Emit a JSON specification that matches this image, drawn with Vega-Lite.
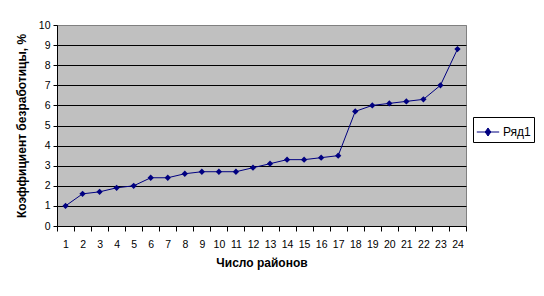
{
  "$schema": "https://vega.github.io/schema/vega-lite/v6.json",
  "width": 409,
  "height": 201,
  "autosize": {"type": "none"},
  "padding": {"left": 57, "top": 25, "right": 78, "bottom": 70},
  "background": "white",
  "config": {
    "font": "Liberation Sans",
    "view": {"fill": "#C0C0C0", "stroke": "#808080", "strokeWidth": 1},
    "axis": {"labelFont": "Liberation Sans", "titleFont": "Liberation Sans", "labelColor": "black", "titleColor": "black", "domainColor": "black", "tickColor": "black"}
  },
  "data": {
    "values": [
      {"district": 1, "rate": 1.0, "series": "Ряд1"},
      {"district": 2, "rate": 1.6, "series": "Ряд1"},
      {"district": 3, "rate": 1.7, "series": "Ряд1"},
      {"district": 4, "rate": 1.9, "series": "Ряд1"},
      {"district": 5, "rate": 2.0, "series": "Ряд1"},
      {"district": 6, "rate": 2.4, "series": "Ряд1"},
      {"district": 7, "rate": 2.4, "series": "Ряд1"},
      {"district": 8, "rate": 2.6, "series": "Ряд1"},
      {"district": 9, "rate": 2.7, "series": "Ряд1"},
      {"district": 10, "rate": 2.7, "series": "Ряд1"},
      {"district": 11, "rate": 2.7, "series": "Ряд1"},
      {"district": 12, "rate": 2.9, "series": "Ряд1"},
      {"district": 13, "rate": 3.1, "series": "Ряд1"},
      {"district": 14, "rate": 3.3, "series": "Ряд1"},
      {"district": 15, "rate": 3.3, "series": "Ряд1"},
      {"district": 16, "rate": 3.4, "series": "Ряд1"},
      {"district": 17, "rate": 3.5, "series": "Ряд1"},
      {"district": 18, "rate": 5.7, "series": "Ряд1"},
      {"district": 19, "rate": 6.0, "series": "Ряд1"},
      {"district": 20, "rate": 6.1, "series": "Ряд1"},
      {"district": 21, "rate": 6.2, "series": "Ряд1"},
      {"district": 22, "rate": 6.3, "series": "Ряд1"},
      {"district": 23, "rate": 7.0, "series": "Ряд1"},
      {"district": 24, "rate": 8.8, "series": "Ряд1"}
    ]
  },
  "mark": {"type": "line", "strokeWidth": 1, "point": {"shape": "diamond", "size": 40, "filled": true}},
  "encoding": {
    "x": {
      "field": "district",
      "type": "quantitative",
      "scale": {"domain": [0.5, 24.5], "nice": false, "zero": false},
      "axis": {
        "title": "Число районов",
        "titleFontSize": 12,
        "titleFontWeight": "bold",
        "titlePadding": 8,
        "values": [0.5,1,1.5,2,2.5,3,3.5,4,4.5,5,5.5,6,6.5,7,7.5,8,8.5,9,9.5,10,10.5,11,11.5,12,12.5,13,13.5,14,14.5,15,15.5,16,16.5,17,17.5,18,18.5,19,19.5,20,20.5,21,21.5,22,22.5,23,23.5,24,24.5],
        "labelExpr": "datum.value % 1 == 0 ? format(datum.value, 'd') : ''",
        "labelFontSize": 10.5,
        "labelFlush": false,
        "labelOverlap": false,
        "labelPadding": 8,
        "tickSize": 5,
        "tickOpacity": {"condition": {"test": "datum.value % 1 == 0", "value": 0}, "value": 1},
        "grid": false
      }
    },
    "y": {
      "field": "rate",
      "type": "quantitative",
      "scale": {"domain": [0, 10], "nice": false},
      "axis": {
        "title": "Коэффициент безработицы, %",
        "titleFontSize": 12,
        "titleFontWeight": "bold",
        "titlePadding": 10,
        "values": [0,1,2,3,4,5,6,7,8,9,10],
        "labelFontSize": 10.5,
        "labelPadding": 3,
        "tickSize": 4,
        "grid": true,
        "gridColor": {"condition": {"test": "datum.value == 10 || datum.value == 0", "value": "#808080"}, "value": "black"},
        "gridOpacity": 1
      }
    },
    "color": {
      "field": "series",
      "type": "nominal",
      "scale": {"range": ["#000080"]},
      "legend": {
        "title": null,
        "orient": "none",
        "legendX": 416,
        "legendY": 92,
        "strokeColor": "black",
        "fillColor": "white",
        "padding": 3,
        "labelFontSize": 12,
        "labelFont": "Liberation Sans",
        "labelColor": "black",
        "symbolType": "M-1,0H1M0,-0.36L0.25,0L0,0.36L-0.25,0Z",
        "symbolSize": 500,
        "symbolStrokeWidth": 1,
        "symbolFillColor": "#000080",
        "symbolStrokeColor": "#000080",
        "labelOffset": 3
      }
    }
  }
}
